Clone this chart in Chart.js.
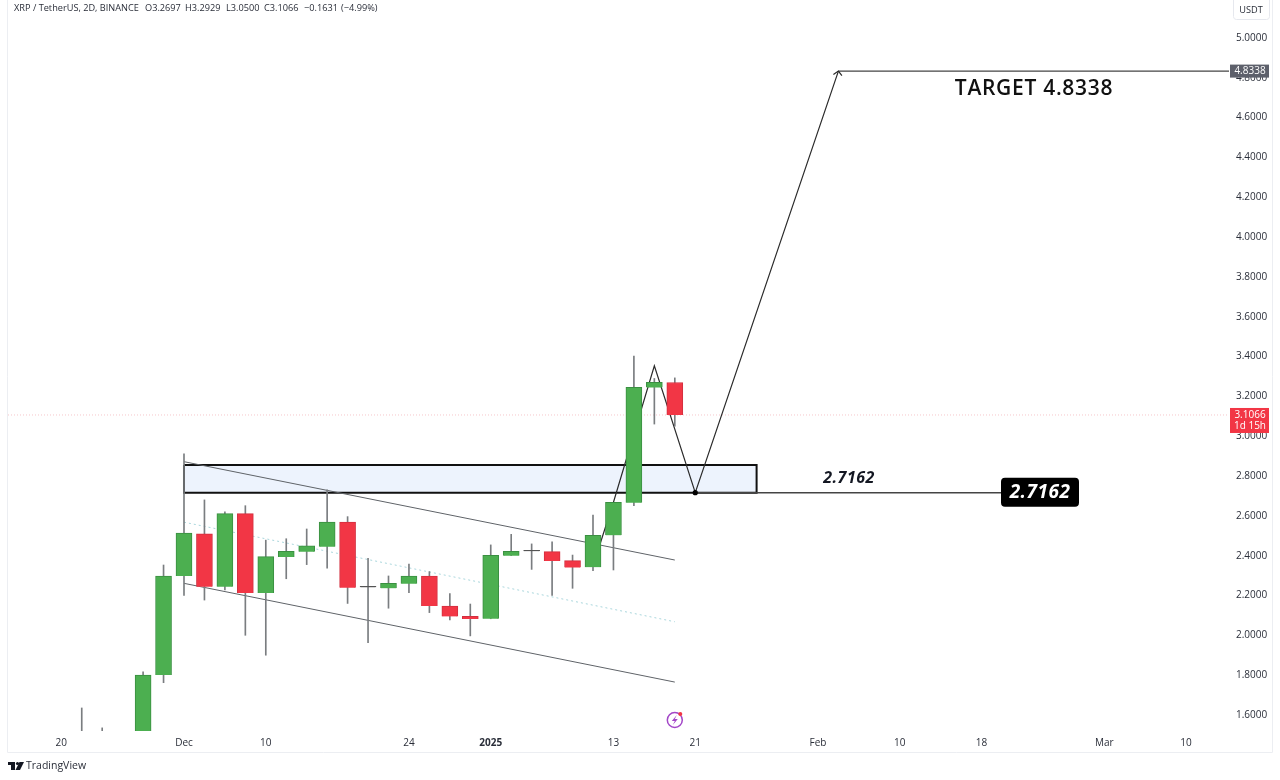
<!DOCTYPE html>
<html>
<head>
<meta charset="utf-8">
<title>XRP / TetherUS</title>
<script src="https://cdn.jsdelivr.net/npm/chart.js@4/dist/chart.umd.min.js"></script>
<style>
  html, body { margin: 0; padding: 0; background: #fff; }
  canvas { display: block; }
</style>
</head>
<body>
<canvas id="grafico" width="1280" height="780"></canvas>
<script>
// candles, position counted in 2D bars from the "Dec" label
const barIndex = [-5, -4, -3, -2, -1, 0, 1, 2, 3, 4, 5, 6, 7, 8, 9, 10, 11, 12, 13, 14, 15, 16, 17, 18, 19, 20, 21, 22, 23, 24];
const opens  = [1.38, 1.42, 1.40, 1.46, 1.80, 2.298, 2.51, 2.244, 2.611, 2.212, 2.393, 2.42, 2.445, 2.569, 2.241, 2.236, 2.259, 2.298, 2.147, 2.095, 2.083, 2.40, 2.422, 2.42, 2.375, 2.342, 2.502, 2.666, 3.244, 3.2697];
const highs  = [1.635, 1.535, 1.48, 1.816, 2.353, 2.911, 2.68, 2.62, 2.651, 2.478, 2.485, 2.534, 2.73, 2.596, 2.387, 2.298, 2.358, 2.32, 2.21, 2.157, 2.454, 2.507, 2.459, 2.469, 2.403, 2.604, 2.668, 3.403, 3.29, 3.2929];
const lows   = [1.30, 1.36, 1.35, 1.40, 1.762, 2.20, 2.177, 2.228, 2.00, 1.90, 2.284, 2.355, 2.337, 2.16, 1.963, 2.136, 2.214, 2.114, 2.077, 1.997, 2.083, 2.40, 2.331, 2.20, 2.236, 2.325, 2.328, 2.651, 3.061, 3.05];
const closes = [1.44, 1.47, 1.42, 1.80, 2.298, 2.514, 2.244, 2.611, 2.212, 2.395, 2.422, 2.449, 2.569, 2.239, 2.241, 2.261, 2.298, 2.147, 2.095, 2.082, 2.402, 2.422, 2.422, 2.373, 2.34, 2.502, 2.668, 3.246, 3.27, 3.1066];

// axes
const priceTicks = [1.6, 1.8, 2.0, 2.2, 2.4, 2.6, 2.8, 3.0, 3.2, 3.4, 3.6, 3.8, 4.0, 4.2, 4.4, 4.6, 4.8, 5.0];
const timeTickBars = [-6, 0, 4, 11, 15, 21, 25, 31, 35, 39, 45, 49];
const timeTickLabels = ['20', 'Dec', '10', '24', '2025', '13', '21', 'Feb', '10', '18', 'Mar', '10'];

// drawings
const zoneTop = 2.855;
const zoneBottom = 2.7162;
const zoneBars = [0, 28];
const targetPrice = 4.8338;
const lastPrice = 3.1066;
const channelBars = [0, 24];
const channelUpper = [2.872, 2.378];
const channelMiddle = [2.568, 2.068];
const channelLower = [2.261, 1.765];
const pathBars = [20, 21, 23, 25, 32];
const pathPrices = [2.348, 2.668, 3.354, 2.7162, 4.8338];

const GREEN = '#4caf50';
const RED = '#f23645';
const axisMinBar = -8.606, axisMaxBar = 51.1;
const axisMinPrice = 1.5193, axisMaxPrice = 5.1909;
const fontAxis = '"Open Sans", sans-serif';

const isDoji = i => opens[i] === closes[i];
const bodyColor = i => isDoji(i) ? '#555' : (closes[i] > opens[i] ? GREEN : RED);
const bodyEdge = i => isDoji(i) ? '#555' : (closes[i] > opens[i] ? '#3a8f41' : '#d32f3f');

function lineSet(xs, ys, color, width, order, extra) {
  return Object.assign({
    type: 'line',
    data: xs.map((x, i) => ({ x, y: ys[i] })),
    borderColor: color,
    borderWidth: width,
    pointRadius: 0,
    tension: 0,
    fill: false,
    order
  }, extra || {});
}

// axes keep exactly the room given, no extra margin for the end labels
function fixAxis(s, size) {
  if (s.isHorizontal()) s.height = size; else s.width = size;
  s.paddingTop = s.paddingBottom = s.paddingLeft = s.paddingRight = 0;
}

// header, price tags, text notes and the small logos
const decoraciones = {
  id: 'decoraciones',
  afterDraw(chart) {
    const { ctx, scales: { x, y } } = chart;
    ctx.save();

    // frame of the pane
    ctx.strokeStyle = '#eceef2';
    ctx.lineWidth = 1;
    ctx.beginPath();
    ctx.moveTo(7.5, 0); ctx.lineTo(7.5, 752.5); ctx.lineTo(1272.5, 752.5); ctx.lineTo(1272.5, 0);
    ctx.stroke();

    // legend line
    ctx.fillStyle = '#2a2e39';
    ctx.font = '9.2px ' + fontAxis;
    ctx.textBaseline = 'middle';
    ctx.textAlign = 'left';
    ctx.fillText('XRP / TetherUS, 2D, BINANCE', 14, 8);
    ctx.fillText('O3.2697', 145, 8);
    ctx.fillText('H3.2929', 185, 8);
    ctx.fillText('L3.0500', 226, 8);
    ctx.fillText('C3.1066', 264, 8);
    ctx.fillText('\u22120.1631', 304, 8);
    ctx.fillText('(\u22124.99%)', 341, 8);

    // currency button
    ctx.strokeStyle = '#e6e8ee';
    ctx.beginPath();
    ctx.roundRect(1233.5, -3.5, 36, 23, 3);
    ctx.stroke();
    ctx.fillStyle = '#2a2e39';
    ctx.textAlign = 'center';
    ctx.fillText('USDT', 1251, 10);

    // target price tag
    const ty = y.getPixelForValue(targetPrice);
    ctx.fillStyle = '#5d606b';
    ctx.fillRect(1230, ty - 6.5, 39, 13);
    ctx.fillStyle = '#fff';
    ctx.font = '10px ' + fontAxis;
    ctx.fillText(targetPrice.toFixed(4), 1250, ty + 0.5);

    // last price tag
    const ly = y.getPixelForValue(lastPrice);
    ctx.fillStyle = RED;
    ctx.fillRect(1230, ly - 7, 39, 25);
    ctx.fillStyle = '#fff';
    ctx.fillText(lastPrice.toFixed(4), 1250, ly);
    ctx.fillText('1d 15h', 1250, ly + 11);

    // arrow head at the end of the path
    const ax = x.getPixelForValue(pathBars[pathBars.length - 1]);
    ctx.strokeStyle = '#2a2a2a';
    ctx.lineWidth = 1.2;
    ctx.beginPath();
    ctx.moveTo(ax - 5, ty + 3.5); ctx.lineTo(ax, ty); ctx.lineTo(ax + 3.5, ty + 4.5);
    ctx.stroke();

    // notes
    const by = y.getPixelForValue(zoneBottom);
    ctx.fillStyle = '#131722';
    ctx.font = 'italic bold 16px ' + fontAxis;
    ctx.letterSpacing = '0.5px';
    ctx.fillText(zoneBottom.toFixed(4), 849, by - 14);
    ctx.fillStyle = '#000';
    ctx.beginPath();
    ctx.roundRect(1001, by - 15, 78, 29, 4);
    ctx.fill();
    ctx.fillStyle = '#fff';
    ctx.font = 'italic bold 19px ' + fontAxis;
    ctx.fillText(zoneBottom.toFixed(4), 1040, by);
    ctx.fillStyle = '#111';
    ctx.font = '600 21px ' + fontAxis;
    ctx.letterSpacing = '0.7px';
    ctx.fillText('TARGET ' + targetPrice.toFixed(4), 1034, 89);
    ctx.letterSpacing = '0px';

    // flash icon under the last candle
    const fx = x.getPixelForValue(24), fy = 720;
    ctx.strokeStyle = '#a347c8';
    ctx.lineWidth = 1.5;
    ctx.beginPath();
    ctx.arc(fx, fy, 7.5, 0, Math.PI * 2);
    ctx.stroke();
    ctx.fillStyle = '#a347c8';
    ctx.beginPath();
    ctx.moveTo(fx + 2, fy - 5); ctx.lineTo(fx - 3, fy + 1); ctx.lineTo(fx, fy + 1);
    ctx.lineTo(fx - 2, fy + 5); ctx.lineTo(fx + 3, fy - 1); ctx.lineTo(fx, fy - 1);
    ctx.closePath();
    ctx.fill();
    ctx.fillStyle = RED;
    ctx.beginPath();
    ctx.arc(fx + 5.5, fy - 6, 2, 0, Math.PI * 2);
    ctx.fill();

    // TradingView mark
    ctx.fillStyle = '#131722';
    ctx.fillRect(8, 762, 7, 3);
    ctx.fillRect(11, 762, 4, 8);
    ctx.beginPath();
    ctx.arc(17.5, 763.5, 1.6, 0, Math.PI * 2);
    ctx.fill();
    ctx.beginPath();
    ctx.moveTo(19.5, 762); ctx.lineTo(24, 762); ctx.lineTo(20, 770); ctx.lineTo(15.5, 770);
    ctx.closePath();
    ctx.fill();
    ctx.font = '10.5px ' + fontAxis;
    ctx.textAlign = 'left';
    ctx.fillStyle = '#2a2e39';
    ctx.fillText('TradingView', 26, 766.5);

    ctx.restore();
  }
};

const grafico = new Chart(document.getElementById('grafico').getContext('2d'), {
  type: 'bar',
  data: {
    datasets: [
      // candle bodies on top of everything
      {
        data: barIndex.map((b, i) => ({ x: b, y: [opens[i], closes[i]] })),
        backgroundColor: barIndex.map((b, i) => bodyColor(i)),
        borderColor: barIndex.map((b, i) => bodyEdge(i)),
        borderWidth: 1,
        barThickness: 16,
        minBarLength: 1,
        grouped: false,
        order: 0
      },
      {
        data: barIndex.map((b, i) => ({ x: b, y: [lows[i], highs[i]] })),
        backgroundColor: '#7a7d80',
        barThickness: 1,
        grouped: false,
        order: 1
      },
      lineSet(pathBars, pathPrices, '#2a2a2a', 1.2, 2, {
        pointRadius: [0, 0, 0, 2, 0],
        pointBackgroundColor: '#000',
        pointBorderColor: '#000'
      }),
      lineSet([25, 40], [zoneBottom, zoneBottom], '#444', 1.4, 3),
      lineSet([32, axisMaxBar], [targetPrice, targetPrice], '#444', 1.4, 3),
      lineSet(channelBars, channelUpper, '#5f6368', 1, 4),
      lineSet(channelBars, channelLower, '#5f6368', 1, 4),
      lineSet(channelBars, channelMiddle, '#a9d6dc', 1, 4, { borderDash: [2, 3] }),
      lineSet([axisMinBar, axisMaxBar], [lastPrice, lastPrice], '#f6c6ca', 1, 5, { borderDash: [1, 2] }),
      lineSet(
        [zoneBars[0], zoneBars[1], zoneBars[1], zoneBars[0], zoneBars[0]],
        [zoneTop, zoneTop, zoneBottom, zoneBottom, zoneTop],
        '#111', 2, 6,
        { fill: 'shape', backgroundColor: '#edf3fd', borderJoinStyle: 'miter' }
      )
    ]
  },
  options: {
    responsive: false,
    animation: false,
    devicePixelRatio: 1,
    layout: { padding: { left: 8, top: 0, right: 0, bottom: 28 } },
    plugins: { legend: { display: false }, tooltip: { enabled: false } },
    scales: {
      x: {
        type: 'linear',
        bounds: 'data',
        offset: false,
        min: axisMinBar,
        max: axisMaxBar,
        grid: { display: false, offset: false, drawTicks: false },
        border: { display: false },
        afterBuildTicks: s => { s.ticks = timeTickBars.map(v => ({ value: v })); },
        afterFit: s => fixAxis(s, 21),
        ticks: {
          autoSkip: false,
          maxRotation: 0,
          padding: 6,
          color: '#2a2e39',
          font: c => ({
            family: fontAxis,
            size: 10,
            weight: c.index === timeTickLabels.indexOf('2025') ? 'bold' : 'normal'
          }),
          callback: (v, i) => timeTickLabels[i]
        }
      },
      y: {
        position: 'right',
        bounds: 'data',
        min: axisMinPrice,
        max: axisMaxPrice,
        grid: { display: false, drawTicks: false },
        border: { display: false },
        afterBuildTicks: s => { s.ticks = priceTicks.map(v => ({ value: v })); },
        afterFit: s => fixAxis(s, 51),
        ticks: {
          autoSkip: false,
          padding: 7,
          color: '#2a2e39',
          font: { family: fontAxis, size: 10 },
          callback: v => v.toFixed(4)
        }
      }
    }
  },
  plugins: [decoraciones]
});
</script>
</body>
</html>
